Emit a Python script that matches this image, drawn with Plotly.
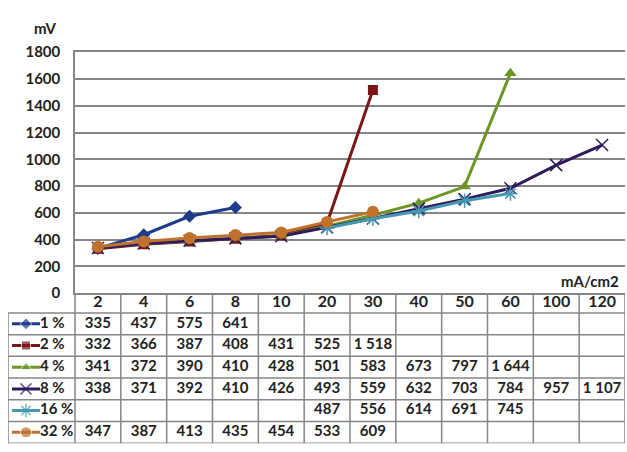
import plotly.graph_objects as go

# ---------------- data ----------------
categories = ["2", "4", "6", "8", "10", "20", "30", "40", "50", "60", "100", "120"]
series_names = ["1 %", "2 %", "4 %", "8 %", "16 %", "32 %"]
s1 = [335, 437, 575, 641, None, None, None, None, None, None, None, None]
s2 = [332, 366, 387, 408, 431, 525, 1518, None, None, None, None, None]
s4 = [341, 372, 390, 410, 428, 501, 583, 673, 797, 1644, None, None]
s8 = [338, 371, 392, 410, 426, 493, 559, 632, 703, 784, 957, 1107]
s16 = [None, None, None, None, None, 487, 556, 614, 691, 745, None, None]
s32 = [347, 387, 413, 435, 454, 533, 609, None, None, None, None, None]
y_ticks = [0, 200, 400, 600, 800, 1000, 1200, 1400, 1600, 1800]

series_values = [s1, s2, s4, s8, s16, s32]

# ---------------- styles ----------------
W, H = 627, 452
colors = ["#1f3b8c", "#7a1518", "#6e9627", "#2e1b5e", "#4598b0", "#c0722c"]
symbols = ["diamond", "square", "triangle-up", "x-thin-open", "asterisk-open", "circle"]
msizes = [10, 10, 11, 12, 12, 12]
mline_colors = [None, None, None, "#6c6c9a", "#3f8aa8", None]
FONT = "Lato"
TXT = "#222222"
GRID = "#868686"

def px(x):
    return x / W

def py(y):
    return 1 - y / H

PL, PR, PT, PB = 75, 625, 44, 295
ncat = len(categories)
cw = (PR - PL) / ncat          # category width in px
LEG_L = 8                      # table legend column left edge
hdr_h = 20.5                   # header row height (px)
row_h = 22.6                   # data row height (px)
nser = len(series_names)
TB = PB + hdr_h + nser * row_h
y2_top = 0.5 - hdr_h / row_h   # y2 value at the plot's bottom line
hdr_y = 0.5 - hdr_h / row_h / 2

xi = list(range(ncat))

fig = go.Figure()

# ---------------- chart lines ----------------
for name, vals, c, sym, ms, mlc in zip(series_names, series_values, colors, symbols, msizes, mline_colors):
    marker = dict(symbol=sym, size=ms, color=c)
    if mlc:
        marker["line"] = dict(color=mlc, width=1.5)
    fig.add_trace(go.Scatter(
        x=xi, y=vals, mode="lines+markers", name=name,
        line=dict(color=c, width=3), marker=marker,
        connectgaps=False, showlegend=False, xaxis="x", yaxis="y",
    ))

# ---------------- table (second axes) ----------------
x2_left = -0.5 - (PL - LEG_L) / cw
def x2(pxv):
    return -0.5 + (pxv - PL) / cw

# header labels
fig.add_trace(go.Scatter(
    x=xi, y=[hdr_y] * ncat, mode="text", text=categories,
    textfont=dict(family=FONT, size=16, color=TXT, weight="bold"),
    textposition="middle center", showlegend=False, xaxis="x2", yaxis="y2",
    hoverinfo="skip",
))

for r, (name, vals, c, sym, ms, mlc) in enumerate(
        zip(series_names, series_values, colors, symbols, msizes, mline_colors), start=1):
    xs = [i for i, v in enumerate(vals) if v is not None]
    txt = [f"{vals[i]:,}".replace(",", " ") for i in xs]
    fig.add_trace(go.Scatter(
        x=xs, y=[r] * len(xs), mode="text", text=txt,
        textfont=dict(family=FONT, size=15, color=TXT, weight="bold"),
        textposition="middle center", showlegend=False, xaxis="x2", yaxis="y2",
        hoverinfo="skip",
    ))
    # legend key
    marker = dict(symbol=sym, size=ms - 1, color=c)
    if mlc:
        marker["line"] = dict(color=mlc, width=1.5)
    fig.add_trace(go.Scatter(
        x=[x2(12), x2(26), x2(40)], y=[r, r, r], mode="lines+markers",
        line=dict(color=c, width=3), marker=dict(marker, size=[0, ms - 1, 0]),
        showlegend=False, xaxis="x2", yaxis="y2", hoverinfo="skip",
    ))
    fig.add_trace(go.Scatter(
        x=[x2(40)], y=[r], mode="text", text=[name],
        textfont=dict(family=FONT, size=15, color=TXT, weight="bold"),
        textposition="middle right", showlegend=False, xaxis="x2", yaxis="y2",
        hoverinfo="skip",
    ))

shapes = []
line_style = dict(color=GRID, width=1.5)
# vertical lines
for k in range(ncat + 1):
    shapes.append(dict(type="line", xref="x2", yref="y2", x0=k - 0.5, x1=k - 0.5,
                       y0=y2_top, y1=nser + 0.5, line=line_style, layer="below"))
shapes.append(dict(type="line", xref="x2", yref="y2", x0=x2_left, x1=x2_left,
                   y0=0.5, y1=nser + 0.5, line=line_style, layer="below"))
# horizontal lines
for r in range(0, nser + 1):
    shapes.append(dict(type="line", xref="x2", yref="y2", x0=x2_left, x1=ncat - 0.5,
                       y0=r + 0.5, y1=r + 0.5, line=line_style, layer="below"))

annotations = [
    dict(text="mV", x=px(45), y=py(19), xref="paper", yref="paper", showarrow=False,
         font=dict(family=FONT, size=15, color=TXT, weight="bold"), xanchor="center", yanchor="middle"),
    dict(text="mA/cm2", x=px(621), y=py(282), xref="paper", yref="paper", showarrow=False,
         font=dict(family=FONT, size=15, color=TXT, weight="bold"), xanchor="right", yanchor="middle"),
]

fig.update_layout(
    width=W, height=H,
    margin=dict(l=0, r=0, t=0, b=0),
    paper_bgcolor="white", plot_bgcolor="white",
    showlegend=False,
    shapes=shapes, annotations=annotations,
    xaxis=dict(domain=[px(PL), px(PR)], range=[-0.5, ncat - 0.5], showgrid=False,
               zeroline=False, showticklabels=False, ticks="", showline=True,
               linecolor=GRID, linewidth=1.5, mirror=True, fixedrange=True),
    yaxis=dict(domain=[py(PB), py(PT)], range=[0, 1800], tickvals=y_ticks,
               showgrid=True, gridcolor=GRID, gridwidth=1.5, zeroline=False,
               showline=True, linecolor=GRID, linewidth=1.5,
               tickfont=dict(family=FONT, size=15, color=TXT, weight="bold"),
               ticklabelstandoff=10, fixedrange=True),
    xaxis2=dict(domain=[px(LEG_L), px(PR)], range=[x2_left, ncat - 0.5], anchor="y2",
                showgrid=False, zeroline=False, showticklabels=False, showline=False,
                fixedrange=True),
    yaxis2=dict(domain=[py(TB), py(PB)], range=[nser + 0.5, y2_top], anchor="x2",
                showgrid=False, zeroline=False, showticklabels=False, showline=False,
                fixedrange=True),
)

post = (
    "document.documentElement.style.margin='0';"
    "document.documentElement.style.overflow='hidden';"
    "document.body.style.margin='0';"
    "document.body.style.overflow='hidden';"
    "var d=document.getElementById('{plot_id}');"
    "d.style.position='fixed';d.style.left='0px';d.style.top='0px';"
)
fig.write_html("out.html", config={"displayModeBar": False}, post_script=post)
